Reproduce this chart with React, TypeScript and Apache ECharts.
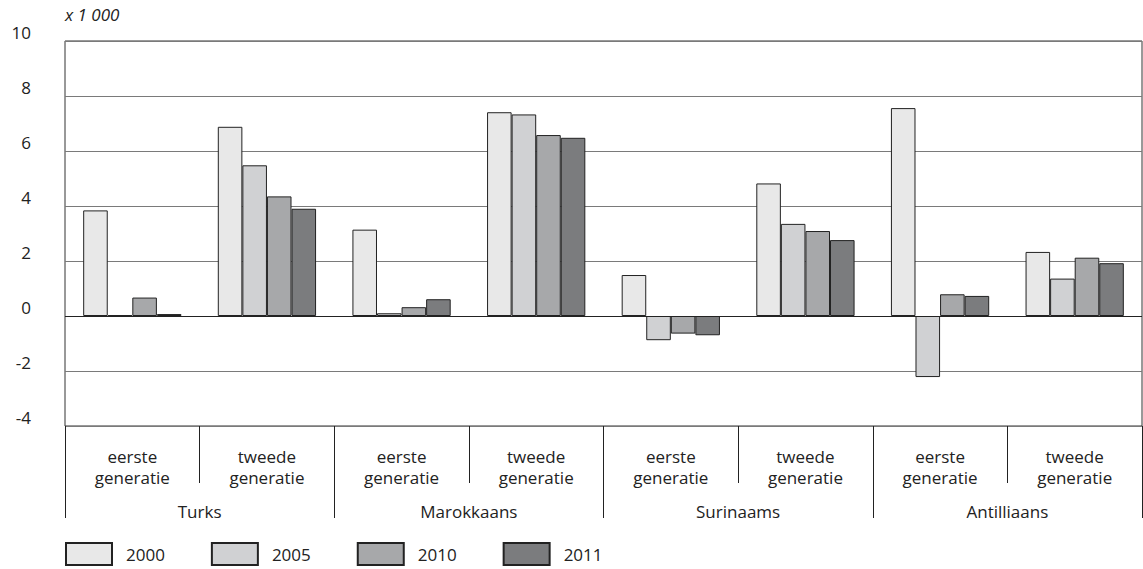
import React, { useEffect, useRef } from "react";
import * as echarts from "echarts";

const categories = [
  "eerste\ngeneratie", "tweede\ngeneratie",
  "eerste\ngeneratie", "tweede\ngeneratie",
  "eerste\ngeneratie", "tweede\ngeneratie",
  "eerste\ngeneratie", "tweede\ngeneratie",
];
const groups = ["Turks", "Marokkaans", "Surinaams", "Antilliaans"];
const years = ["2000", "2005", "2010", "2011"];
const v2000 = [3.84, 6.88, 3.14, 7.41, 1.49, 4.82, 7.56, 2.33];
const v2005 = [0.03, 5.48, 0.1, 7.33, -0.88, 3.35, -2.22, 1.36];
const v2010 = [0.67, 4.35, 0.32, 6.58, -0.64, 3.09, 0.79, 2.12];
const v2011 = [0.07, 3.9, 0.61, 6.48, -0.7, 2.76, 0.73, 1.92];
const colors = ["#e8e8e8", "#d0d1d3", "#a7a8aa", "#7b7c7e"];

const FONT = "'Open Sans', 'Noto Sans', sans-serif";
const TXT = "#222222";

export default function App() {
  const ref = useRef<HTMLDivElement>(null);
  useEffect(() => {
    if (!ref.current) return;
    const chart = echarts.init(ref.current, null, { renderer: "svg" });
    const values = [v2000, v2005, v2010, v2011];
    const series: any[] = years.map((y, i) => ({
      name: y,
      type: "bar",
      data: values[i],
      xAxisIndex: 0,
      barGap: "0%",
      barCategoryGap: "27%",
      itemStyle: { color: colors[i], borderColor: "#222222", borderWidth: 1 },
      markLine: i === 0 ? {
        silent: true,
        symbol: ["none", "none"],
        label: { show: false },
        lineStyle: { color: "#222222", width: 1, type: "solid" },
        data: [{ yAxis: 0 }],
      } : undefined,
    }));
    chart.setOption({
      animation: false,
      textStyle: { fontFamily: FONT },
      grid: {
        left: 65, right: 1, top: 41, bottom: 143,
        show: true, borderColor: "#333333", borderWidth: 1,
      },
      legend: {
        left: 65, top: 542, padding: 0,
        itemWidth: 46, itemHeight: 22, itemGap: 46,
        icon: "rect",
        selectedMode: false,
        data: years,
        textStyle: { fontFamily: FONT, fontSize: 17, color: TXT, padding: [4, 0, 0, 9] },
      },
      graphic: [{
        type: "text",
        left: 65, top: 6,
        style: { text: "x 1 000", font: "italic 17px 'Open Sans', sans-serif", fill: TXT },
      }],
      xAxis: [
        {
          type: "category",
          position: "bottom",
          data: categories,
          axisLine: { show: false, onZero: false },
          axisTick: { show: true, length: 57, interval: 0, lineStyle: { color: "#222222" } },
          axisLabel: {
            interval: 0, margin: 20, fontSize: 17, lineHeight: 21,
            color: TXT, fontFamily: FONT,
          },
        },
        {
          type: "category",
          position: "bottom",
          data: groups,
          axisLine: { show: false, onZero: false },
          axisTick: { show: true, length: 92, interval: 0, lineStyle: { color: "#222222" } },
          axisLabel: {
            interval: 0, margin: 75, fontSize: 17, lineHeight: 20,
            color: TXT, fontFamily: FONT,
          },
        },
      ],
      yAxis: {
        type: "value",
        min: -4, max: 10, interval: 2,
        axisLine: { show: false },
        axisTick: { show: false },
        splitLine: { show: true, lineStyle: { color: "#7a7a7a", width: 1 } },
        axisLabel: {
          margin: 34, fontSize: 17, color: TXT, fontFamily: FONT,
          verticalAlign: "bottom", lineHeight: 18,
        },
      },
      series,
    });
    return () => chart.dispose();
  }, []);
  return (
    <div
      ref={ref}
      style={{ position: "fixed", left: 0, top: 0, width: 1143, height: 569, background: "#ffffff" }}
    />
  );
}
